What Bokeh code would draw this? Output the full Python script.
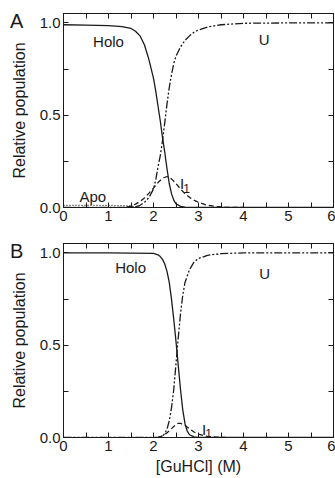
from bokeh.plotting import figure
from bokeh.models import LinearAxis, FixedTicker, Range1d, NumeralTickFormatter, Div
from bokeh.layouts import column
from bokeh.embed import file_html
from bokeh.resources import INLINE
from bokeh.core.properties import value

# ---------------- data ----------------
X_TICKS = [0, 1, 2, 3, 4, 5, 6]
X_MINOR = [0.5, 1.5, 2.5, 3.5, 4.5, 5.5]
Y_TICKS = [0.0, 0.5, 1.0]
Y_MINOR = [0.25, 0.75]
X_TITLE = "[GuHCl] (M)"
Y_TITLE = "Relative population"
PANEL_LETTERS = ["A", "B"]

# Panel A
holo_a_x = [0, 0.5, 1.0, 1.3, 1.5, 1.6, 1.7, 1.8, 1.9, 2.0, 2.05, 2.1, 2.15, 2.2, 2.25, 2.3, 2.35, 2.4, 2.45, 2.5, 2.6, 2.7, 2.8, 6.0]
holo_a_y = [0.99, 0.988, 0.985, 0.98, 0.97, 0.955, 0.93, 0.88, 0.80, 0.70, 0.63, 0.55, 0.47, 0.38, 0.30, 0.21, 0.13, 0.075, 0.04, 0.02, 0.006, 0.002, 0.0, 0.0]
u_a_x = [0, 1.4, 1.5, 1.6, 1.7, 1.8, 1.9, 2.0, 2.05, 2.1, 2.15, 2.2, 2.25, 2.3, 2.35, 2.4, 2.45, 2.5, 2.6, 2.7, 2.8, 2.9, 3.0, 3.2, 3.5, 4.0, 5.0, 6.0]
u_a_y = [0.0, 0.0, 0.001, 0.004, 0.012, 0.028, 0.055, 0.10, 0.15, 0.22, 0.28, 0.36, 0.46, 0.56, 0.65, 0.72, 0.78, 0.82, 0.87, 0.905, 0.93, 0.95, 0.962, 0.978, 0.99, 0.998, 1.0, 1.0]
i1_a_x = [1.4, 1.5, 1.6, 1.7, 1.8, 1.9, 2.0, 2.1, 2.2, 2.3, 2.4, 2.5, 2.6, 2.7, 2.8, 2.9, 3.0, 3.2, 3.4, 3.6, 3.8, 4.0]
i1_a_y = [0.002, 0.008, 0.018, 0.033, 0.052, 0.078, 0.105, 0.135, 0.158, 0.168, 0.155, 0.13, 0.10, 0.075, 0.055, 0.04, 0.028, 0.012, 0.005, 0.002, 0.0, 0.0]
apo_a_x = [0, 0.5, 1.0, 1.3, 1.5, 1.6, 1.7, 1.8]
apo_a_y = [0.012, 0.012, 0.011, 0.01, 0.008, 0.005, 0.002, 0.0]

# Panel B
holo_b_x = [0, 1.0, 2.0, 2.1, 2.15, 2.2, 2.25, 2.3, 2.35, 2.4, 2.45, 2.5, 2.55, 2.6, 2.65, 2.7, 2.75, 2.8, 2.9, 3.0, 6.0]
holo_b_y = [1.0, 1.0, 0.998, 0.99, 0.98, 0.965, 0.94, 0.90, 0.84, 0.75, 0.64, 0.52, 0.39, 0.26, 0.15, 0.075, 0.035, 0.015, 0.003, 0.0, 0.0]
u_b_x = [0, 2.0, 2.1, 2.2, 2.25, 2.3, 2.35, 2.4, 2.45, 2.5, 2.55, 2.6, 2.65, 2.7, 2.8, 2.9, 3.0, 3.2, 3.5, 4.0, 6.0]
u_b_y = [0.0, 0.0, 0.001, 0.008, 0.02, 0.045, 0.09, 0.16, 0.26, 0.40, 0.54, 0.67, 0.77, 0.84, 0.91, 0.95, 0.97, 0.987, 0.996, 1.0, 1.0]
i1_b_x = [2.1, 2.15, 2.2, 2.3, 2.4, 2.5, 2.55, 2.6, 2.7, 2.8, 2.9, 3.0, 3.1, 3.2, 3.4, 3.6]
i1_b_y = [0.0, 0.003, 0.01, 0.025, 0.048, 0.07, 0.077, 0.077, 0.065, 0.047, 0.03, 0.018, 0.011, 0.006, 0.002, 0.0]

# curve labels: (text, x, baseline y)
labels_a = [("Holo", 1.0, 0.90), ("U", 4.46, 0.91), ("Apo", 0.65, 0.06)]
sub_a = (2.59, 0.13, 2.66, 0.105)
labels_b = [("Holo", 1.49, 0.92), ("U", 4.47, 0.89)]
sub_b = (3.08, 0.045, 3.15, 0.022)

FONT = "Liberation Sans"
INK = "#1a1a1a"
DASH_U = "8 2 2 2 2 2"
DASH_I = "5 3"
DOT = "1 2"


def style_axis(ax, show_labels):
    ax.axis_line_color = INK
    ax.major_tick_line_color = INK
    ax.minor_tick_line_color = INK
    ax.major_tick_in = 5
    ax.major_tick_out = 0
    ax.minor_tick_in = 5
    ax.minor_tick_out = 0
    ax.major_label_text_font = FONT
    ax.axis_label_text_font = FONT
    ax.axis_label_text_font_size = "16px"
    ax.axis_label_text_font_style = "normal"
    ax.axis_label_text_color = INK
    if show_labels:
        ax.major_label_text_color = INK
        ax.major_label_text_font_size = "15px"
        ax.major_label_standoff = 3
    else:
        ax.major_label_text_color = None
        ax.major_label_text_font_size = "1px"
        ax.major_label_standoff = 0


def make_panel(height, border_bottom, with_xtitle, curves, labels, sub):
    p = figure(width=335, height=height, output_backend="svg", toolbar_location=None,
               x_range=Range1d(0, 6), y_range=Range1d(0, 1.051),
               x_axis_type=None, y_axis_type=None,
               min_border_left=63, min_border_right=2, min_border_top=13,
               min_border_bottom=border_bottom)
    p.outline_line_color = INK
    p.outline_line_width = 1
    p.background_fill_color = "white"

    xt = FixedTicker(ticks=X_TICKS, minor_ticks=X_MINOR)
    yt = FixedTicker(ticks=Y_TICKS, minor_ticks=Y_MINOR)

    bottom = LinearAxis(ticker=xt)
    style_axis(bottom, True)
    if with_xtitle:
        bottom.axis_label = X_TITLE
        bottom.axis_label_standoff = 4
    p.add_layout(bottom, "below")

    left = LinearAxis(ticker=yt, formatter=NumeralTickFormatter(format="0.0"))
    style_axis(left, True)
    left.axis_label = Y_TITLE
    left.axis_label_standoff = 9
    p.add_layout(left, "left")

    top = LinearAxis(ticker=FixedTicker(ticks=X_TICKS + X_MINOR))
    style_axis(top, False)
    p.add_layout(top, "above")

    right = LinearAxis(ticker=FixedTicker(ticks=Y_TICKS + Y_MINOR))
    style_axis(right, False)
    p.add_layout(right, "right")

    for xs, ys, dash in curves:
        p.line(xs, ys, line_color=INK, line_width=1.3, line_dash=dash)

    p.text(x=[l[1] for l in labels], y=[l[2] for l in labels], text=[l[0] for l in labels],
           text_font=value(FONT), text_font_size="15px", text_color=INK,
           text_align="center", text_baseline="alphabetic")
    p.text(x=[sub[0]], y=[sub[1]], text=["I"], text_font=value(FONT), text_font_size="15px",
           text_color=INK, text_align="left", text_baseline="alphabetic")
    p.text(x=[sub[2]], y=[sub[3]], text=["1"], text_font=value(FONT), text_font_size="12px",
           text_color=INK, text_align="left", text_baseline="alphabetic")
    return p


def letter_div(text, top_px):
    return Div(text=text, margin=0,
               styles={"position": "absolute", "left": "10px", "top": f"{top_px}px",
                       "font-family": FONT, "font-size": "20px", "line-height": "1",
                       "color": INK, "z-index": "10"})


pa = make_panel(230, 23, False,
                [(holo_a_x, holo_a_y, "solid"), (u_a_x, u_a_y, DASH_U),
                 (i1_a_x, i1_a_y, DASH_I), (apo_a_x, apo_a_y, DOT)],
                labels_a, sub_a)
pb = make_panel(248, 41, True,
                [(holo_b_x, holo_b_y, "solid"), (u_b_x, u_b_y, DASH_U),
                 (i1_b_x, i1_b_y, DASH_I)],
                labels_b, sub_b)

layout = column(pa, pb, letter_div(PANEL_LETTERS[0], 11), letter_div(PANEL_LETTERS[1], 241), spacing=0)
open("out.html", "w").write(file_html(layout, INLINE))
